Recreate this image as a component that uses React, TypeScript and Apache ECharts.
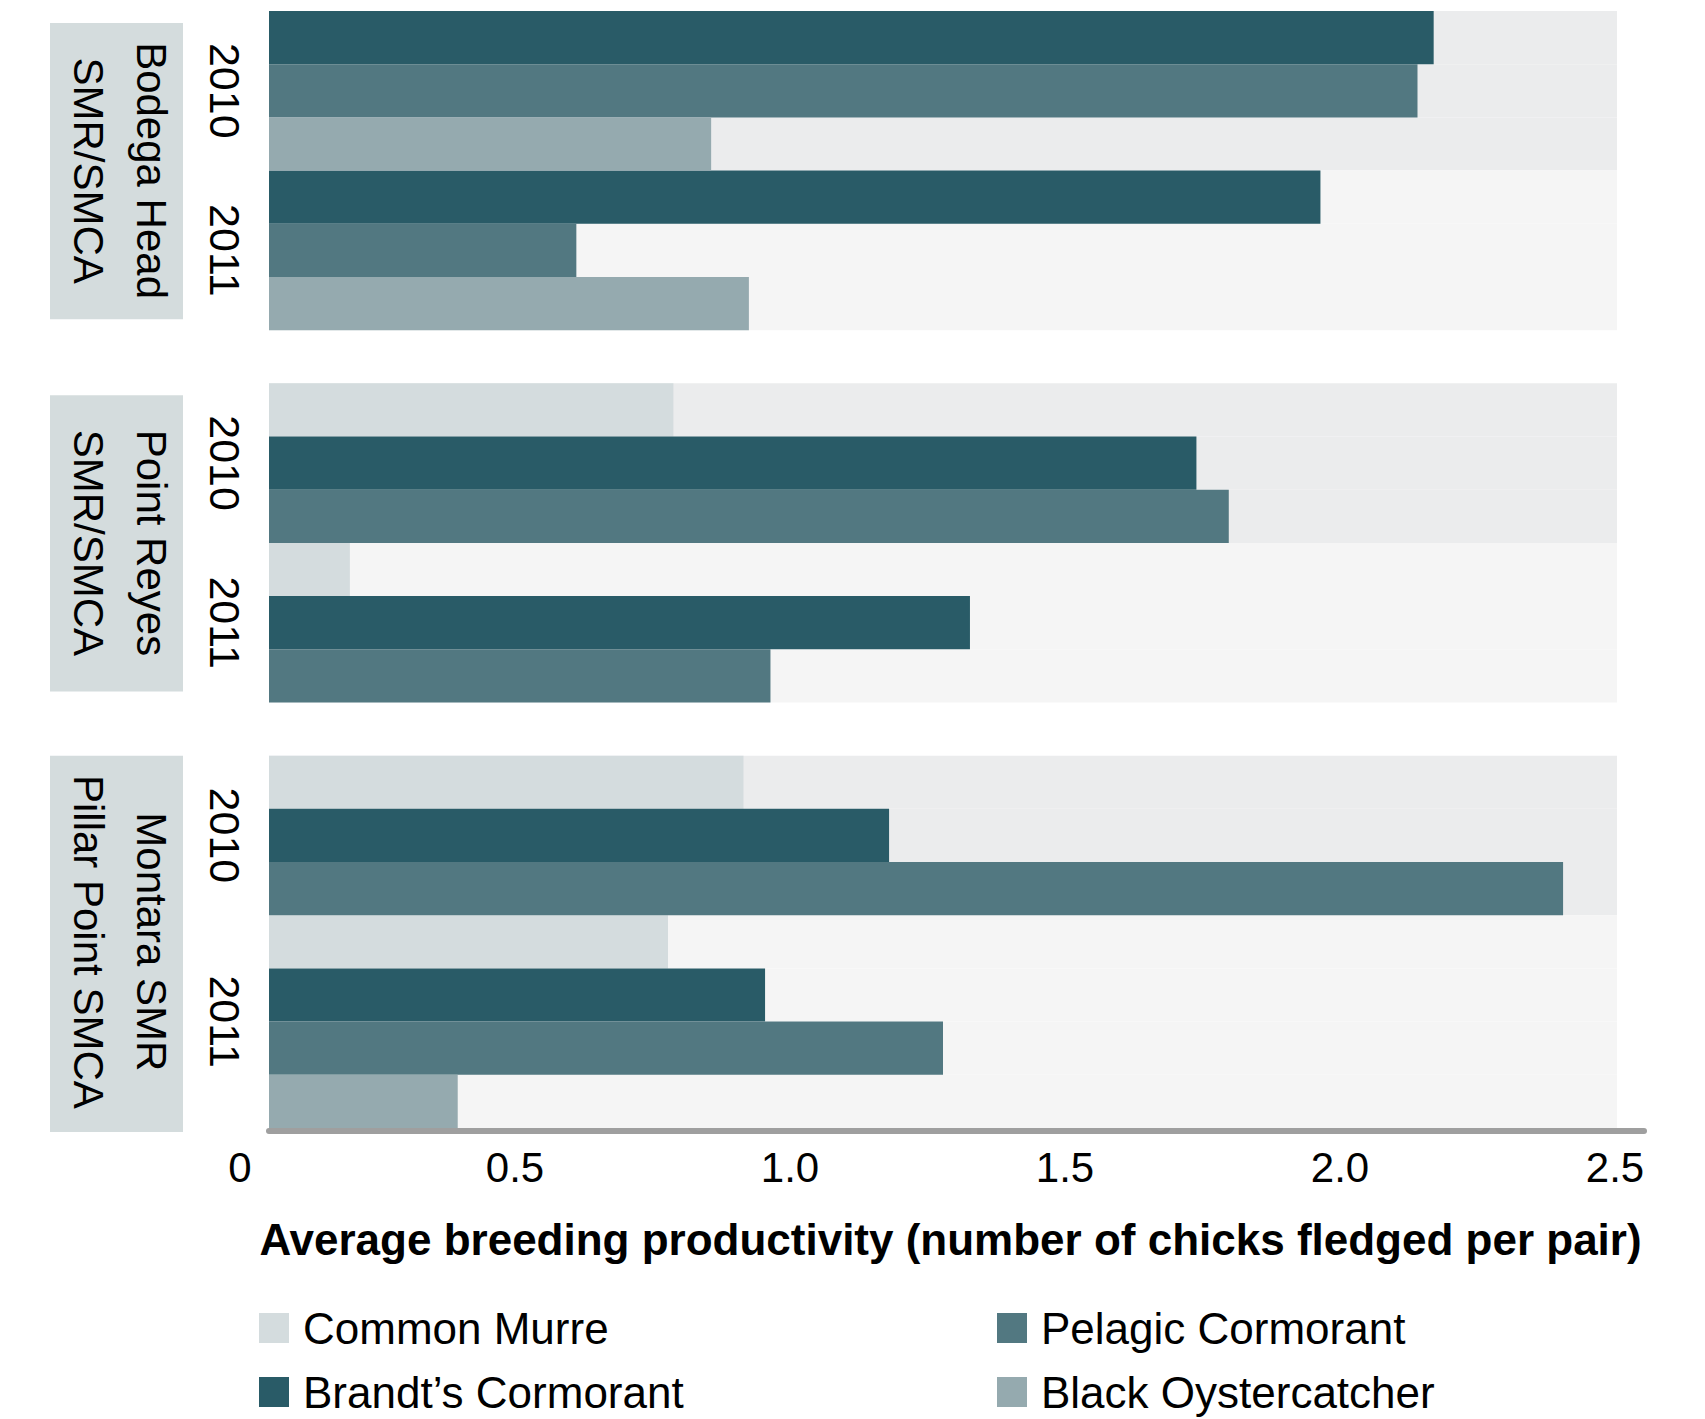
import React, { useEffect, useRef } from "react";
import * as echarts from "echarts";

// ---------- data ----------
const sites = ["Bodega Head\nSMR/SMCA", "Point Reyes\nSMR/SMCA", "Montara SMR\nPillar Point SMCA"];
const years = ["2010", "2011"];
const species = ["Common Murre", "Brandt’s Cormorant", "Pelagic Cormorant", "Black Oystercatcher"];
// order of site-years: Bodega 2010, Bodega 2011, Point Reyes 2010, Point Reyes 2011, Montara 2010, Montara 2011
const commonMurre = [null, null, 0.75, 0.15, 0.88, 0.74];
const brandtsCormorant = [2.16, 1.95, 1.72, 1.3, 1.15, 0.92];
const pelagicCormorant = [2.13, 0.57, 1.78, 0.93, 2.4, 1.25];
const blackOystercatcher = [0.82, 0.89, null, null, null, 0.35];
const tickLabels = ["0", "0.5", "1.0", "1.5", "2.0", "2.5"];
const axisMax = 2.5;
const tickStep = 0.5;
const axisTitle = "Average breeding productivity (number of chicks fledged per pair)";

// ---------- style ----------
const speciesValues: (number | null)[][] = [commonMurre, brandtsCormorant, pelagicCormorant, blackOystercatcher];
const speciesColors = ["#d4dcde", "#295b67", "#527881", "#95aaaf"];
const bandColors = ["#ebeced", "#f5f5f5"];
const siteBoxColor = "#d4dcdd";
const FONT = "'Liberation Sans', Arial, sans-serif";

const PLOT_LEFT = 269;
const PLOT_TOP = 11;
const PLOT_BOTTOM = 1128;
const PLOT_RIGHT = 1617;
const AXIS_END = 1644;
const LABEL_LEFT = 240;
const LABEL_RIGHT = 1615;
const siteBoxX = 50;
const siteBoxW = 133;
const siteBoxInsets = [[12, 11], [12, 11], [0, -4]];
const siteTextX = 120;
const yearTextX = 225;
// legend slots: [left, swatch top] for each species
const legendSlots = [[259, 1313], [259, 1377], [997, 1313], [997, 1377]];
const legendFont = 44;
const legendLineH = 48;

type Row = { id: string; site: number; year: number; sp: number; k: number };
const rows: Row[] = [];
sites.forEach((_, si) => {
  if (si > 0) rows.push({ id: `gap-${si}`, site: -1, year: -1, sp: -1, k: -1 });
  years.forEach((y, yi) => {
    const k = si * years.length + yi;
    speciesValues.forEach((vals, spi) => {
      if (vals[k] !== null && vals[k] !== undefined) rows.push({ id: `${si}-${y}-${spi}`, site: si, year: yi, sp: spi, k });
    });
  });
});
const rowIds = rows.map((r) => r.id);

export default function App() {
  const ref = useRef<HTMLDivElement>(null);
  useEffect(() => {
    const chart = echarts.init(ref.current!, null, { renderer: "svg" });
    const xMax0 = (axisMax * (AXIS_END - PLOT_LEFT)) / (PLOT_RIGHT - PLOT_LEFT);
    const plotH = PLOT_BOTTOM - PLOT_TOP;

    const bgSeries = {
      type: "bar",
      name: "band",
      silent: true,
      z: 1,
      barGap: "-100%",
      barCategoryGap: "0%",
      data: rows.map((r) => (r.sp < 0 ? "-" : { value: axisMax, itemStyle: { color: bandColors[r.year] } })),
    };
    const spSeries = species.map((name, spi) => ({
      type: "bar",
      name,
      stack: "sp",
      z: 2,
      barGap: "-100%",
      barCategoryGap: "0%",
      itemStyle: { color: speciesColors[spi] },
      data: rows.map((r) => (r.sp === spi ? speciesValues[spi][r.k] : "-")),
    }));

    const legends = species.map((name, spi) => ({
      orient: "horizontal",
      left: legendSlots[spi][0],
      top: legendSlots[spi][1] - (legendLineH - 30) / 2,
      height: legendLineH + 4,
      itemWidth: 30,
      itemHeight: 30,
      padding: 0,
      icon: "rect",
      selectedMode: false,
      data: [name],
      textStyle: { fontSize: legendFont, fontFamily: FONT, color: "#000", lineHeight: legendLineH, padding: [0, 0, 0, 9] },
    }));

    chart.setOption({
      animation: false,
      backgroundColor: "#ffffff",
      grid: [
        { left: PLOT_LEFT, top: PLOT_TOP, width: AXIS_END - PLOT_LEFT, height: plotH, outerBoundsMode: "none", containLabel: false },
        { left: LABEL_LEFT, top: PLOT_TOP, width: LABEL_RIGHT - LABEL_LEFT, height: plotH, outerBoundsMode: "none", containLabel: false },
      ],
      legend: legends,
      xAxis: [
        {
          type: "value",
          gridIndex: 0,
          min: 0,
          max: xMax0,
          offset: 3,
          axisLine: { show: true, lineStyle: { color: "#9f9f9f", width: 6 } },
          axisTick: { show: false },
          axisLabel: { show: false },
          splitLine: { show: false },
          name: axisTitle,
          nameLocation: "middle",
          nameGap: 86,
          nameTextStyle: { fontSize: 44, fontWeight: "bold", fontFamily: FONT, color: "#000", padding: [0, 12, 0, 0] },
        },
        {
          type: "value",
          gridIndex: 1,
          min: 0,
          max: axisMax,
          interval: tickStep,
          axisLine: { show: false },
          axisTick: { show: false },
          splitLine: { show: false },
          axisLabel: {
            margin: 18,
            fontSize: 42,
            fontFamily: FONT,
            color: "#000",
            formatter: (v: number) => tickLabels[Math.round(v / tickStep)] ?? "",
          },
        },
      ],
      yAxis: [
        {
          type: "category",
          gridIndex: 0,
          data: rowIds,
          inverse: true,
          axisLine: { show: false },
          axisTick: { show: false },
          axisLabel: { show: false },
          splitLine: { show: false },
        },
        { type: "category", gridIndex: 1, data: rowIds, inverse: true, show: false },
      ],
      series: [bgSeries, ...spSeries],
    });

    const yOf = (id: string) => chart.convertToPixel({ yAxisIndex: 0 }, id) as number;
    const band = yOf(rowIds[1]) - yOf(rowIds[0]);
    const span = (pred: (r: Row) => boolean) => {
      const sel = rows.filter(pred);
      return [yOf(sel[0].id) - band / 2, yOf(sel[sel.length - 1].id) + band / 2];
    };
    const graphics: any[] = [];
    sites.forEach((s, si) => {
      const [t, b] = span((r) => r.site === si);
      const [it, ib] = siteBoxInsets[si];
      graphics.push({
        type: "rect",
        shape: { x: siteBoxX, y: t + it, width: siteBoxW, height: b - ib - (t + it) },
        style: { fill: siteBoxColor },
        z: 0,
      });
      graphics.push({
        type: "text",
        x: siteTextX,
        y: (t + b) / 2,
        rotation: -Math.PI / 2,
        z: 5,
        style: { text: s, fill: "#000", fontSize: 42, fontFamily: FONT, align: "center", verticalAlign: "middle", lineHeight: 63 },
      });
      years.forEach((y, yi) => {
        const [yt, yb] = span((r) => r.site === si && r.year === yi);
        graphics.push({
          type: "text",
          x: yearTextX,
          y: (yt + yb) / 2,
          rotation: -Math.PI / 2,
          z: 5,
          style: { text: y, fill: "#000", fontSize: 43, fontFamily: FONT, align: "center", verticalAlign: "middle" },
        });
      });
    });
    chart.setOption({ graphic: graphics });

    return () => chart.dispose();
  }, []);
  return (
    <div
      ref={ref}
      style={{ position: "absolute", left: 0, top: 0, width: 1705, height: 1419, background: "#fff" }}
    />
  );
}
